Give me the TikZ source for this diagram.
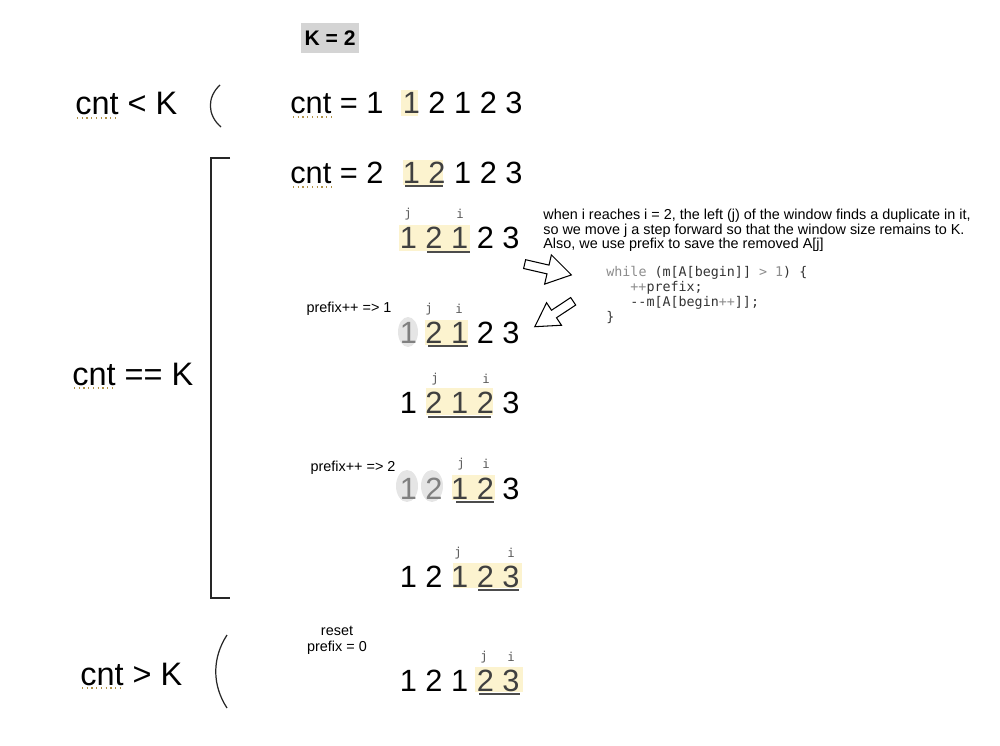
\documentclass[tikz,border=0pt]{standalone}
\usepackage{fontspec}
\setmainfont{Liberation Sans}
\newfontfamily\codefont{DejaVu Sans Mono}
\definecolor{hlyellow}{RGB}{252,243,207}
\definecolor{ghostgray}{RGB}{229,229,229}
\definecolor{squiggle}{RGB}{176,146,72}
\definecolor{codegray}{RGB}{140,140,140}
\tikzset{
	big/.style={inner sep=0, anchor=base west, font=\fontsize{17.5}{20}\selectfont},
	cond/.style={inner sep=0, anchor=base west, font=\fontsize{18.5}{22}\selectfont},
	small/.style={inner sep=0, font=\fontsize{8.2}{8.1}\selectfont},
	ptr/.style={inner sep=0, text=black!65, font=\codefont\fontsize{7}{8}\selectfont},
	hl/.style={fill=hlyellow},
	ghost/.style={fill=ghostgray},
	win/.style={line width=0.9pt, black!70},
	spell/.style={squiggle, dotted, line width=0.7pt},
	bracket/.style={line width=0.7pt, black!85},
	blockarrow/.style={line width=0.6pt, fill=white, line join=miter}
}
\begin{document}
\begin{tikzpicture}[x=0.02cm, y=-0.02cm]
			%%%%% START %%%%%
			\useasboundingbox (0,0) rectangle (1000,746);
			
			\node[fill=black!17, minimum width=1.18cm, minimum height=0.6cm, inner sep=0, font=\bfseries\fontsize{12}{14}\selectfont] (kval) at (330,38) {K = 2};
			
			% conditions on the left
			\node[cond] (lt) at (75,115) {cnt < K};
			\node[cond] (eq) at (72,385) {cnt == K};
			\node[cond] (gt) at (80,685) {cnt > K};
			\draw[spell] (77,118) -- (118,118);
			\draw[spell] (74,388) -- (115,388);
			\draw[spell] (82,688) -- (123,688);
			
			\draw[bracket] (220,85) .. controls (207,97) and (207,115) .. (221,127);
			\draw[bracket] (230,158) -- (211,158) -- (211,598) -- (230,598);
			\draw[bracket] (227,635) .. controls (212,658) and (212,685) .. (227,708);
			
			% windows
			\fill[hl] (401,90) rectangle (418,116);
			\fill[hl] (403,160) rectangle (443,185);
			\fill[hl] (399,225) rectangle (470,251);
			\fill[hl] (425,320) rectangle (468,345);
			\fill[hl] (426,388) rectangle (493,415);
			\fill[hl] (452,475) rectangle (495,500);
			\fill[hl] (453,563) rectangle (522,588);
			\fill[hl] (475,667) rectangle (523,692);
			
			\fill[ghost] (408,332) ellipse (10 and 15);
			\fill[ghost] (407,486) ellipse (11 and 16);
			\fill[ghost] (432,486) ellipse (11 and 16);
			
			\draw[win] (405,186) -- (443,186);
			\draw[win] (427,252) -- (470,252);
			\draw[win] (428,346) -- (468,346);
			\draw[win] (428,417) -- (491,417);
			\draw[win] (456,502) -- (494,502);
			\draw[win] (478,590) -- (519,590);
			\draw[win] (479,694) -- (520,694);
			
			% rows
			\node[big] (cnt1) at (290,114) {cnt = 1};
			\node[big] (cnt2) at (290,184) {cnt = 2};
			\draw[spell] (293,117) -- (333,117);
			\draw[spell] (293,187) -- (333,187);
			
			\node[big] (row1) at (402.5,114) {{\color{black!75}1} 2 1 2 3};
			\node[big] (row2) at (402.5,184) {{\color{black!75}1 2} 1 2 3};
			\node[big] (row3) at (399.5,249) {{\color{black!75}1 2 1} 2 3};
			\node[big] (row4) at (399.5,343) {{\color{black!50}1} {\color{black!75}2 1} 2 3};
			\node[big] (row5) at (399.5,413) {1 {\color{black!75}2 1 2} 3};
			\node[big] (row6) at (399.5,499) {{\color{black!50}1 2} {\color{black!75}1 2} 3};
			\node[big] (row7) at (399.5,587) {1 2 {\color{black!75}1 2 3}};
			\node[big] (row8) at (399.5,691) {1 2 1 {\color{black!75}2 3}};
			
			% j and i
			\node[ptr] (j3) at (408,214) {j};
			\node[ptr] (i3) at (460,214) {i};
			\node[ptr] (j4) at (429,309) {j};
			\node[ptr] (i4) at (459,309) {i};
			\node[ptr] (j5) at (435,379) {j};
			\node[ptr] (i5) at (486,379) {i};
			\node[ptr] (j6) at (461,464) {j};
			\node[ptr] (i6) at (486,464) {i};
			\node[ptr] (j7) at (458,553) {j};
			\node[ptr] (i7) at (511,553) {i};
			\node[ptr] (j8) at (484,657) {j};
			\node[ptr] (i8) at (511,657) {i};
			
			\node[small] (pre1) at (349,309) {prefix++ => 1};
			\node[small] (pre2) at (353,468) {prefix++ => 2};
			\node[small, align=center, font=\fontsize{8.2}{9}\selectfont] (reset) at (337,640) {reset\\prefix = 0};
			
			% note and code
			\node[small, anchor=north west, align=left] (note) at (543,209) {when i reaches i = 2, the left (j) of the window finds a duplicate in it,\\so we move j a step forward so that the window size remains to K.\\Also, we use prefix to save the removed A[j]};
			
			\node[inner sep=0, anchor=north west, align=left, text=black!80, font=\codefont\fontsize{7.6}{8.5}\selectfont] (code) at (606,266) {{\color{codegray}while} (m[A[begin]] {\color{codegray}> 1}) \{\\
				\hspace*{13.7pt}{\color{codegray}++}prefix;\\
				\hspace*{13.7pt}-\kern0pt-m[A[begin{\color{codegray}++}]];\\
				\}};
			
			\draw[blockarrow, shift={(548,269.5)}, rotate=-13] (-24,-4.5) -- (0,-4.5) -- (0,-15) -- (24,0) -- (0,15) -- (0,4.5) -- (-24,4.5) -- cycle;
			\draw[blockarrow, shift={(554,314)}, rotate=213.5] (-23,-4.5) -- (0,-4.5) -- (0,-13.5) -- (23,0) -- (0,13.5) -- (0,4.5) -- (-23,4.5) -- cycle;
			
			%%%%% END %%%%%
		\end{tikzpicture}
\end{document}
